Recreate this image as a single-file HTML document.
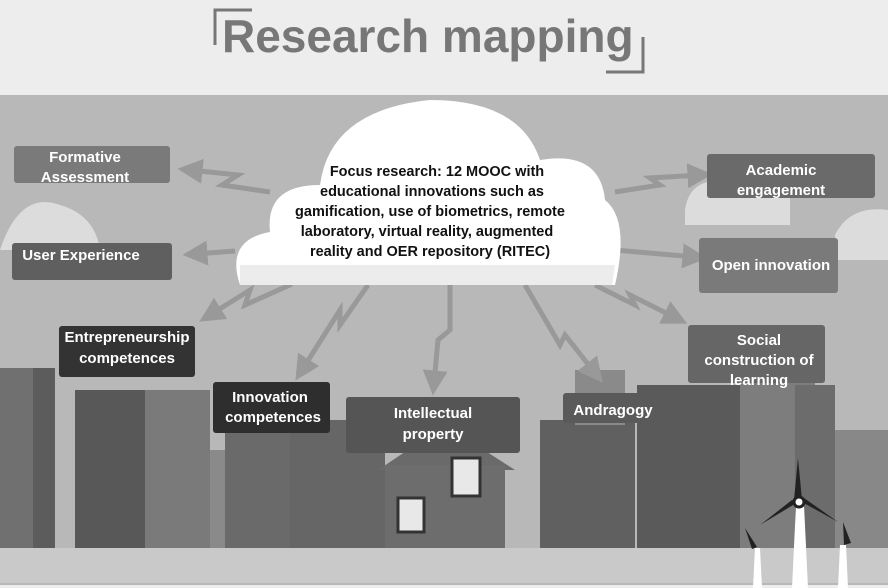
<!DOCTYPE html>
<html><head><style>
html,body{margin:0;padding:0;width:888px;height:588px;overflow:hidden;background:#fff}
svg{display:block;font-family:"Liberation Sans",sans-serif}
</style></head><body>
<svg width="888" height="588" viewBox="0 0 888 588">
<defs>
<marker id="a" markerWidth="5" markerHeight="5" refX="2.5" refY="2.5" orient="auto" markerUnits="strokeWidth">
<path d="M0,0 L5,2.5 L0,5 Z" fill="#999"/>
</marker>
</defs>
<rect x="0" y="0" width="888" height="588" fill="#ededed"/>
<rect x="0" y="95" width="888" height="490" fill="#b8b8b8"/>
<text x="222" y="52" font-size="46" font-weight="bold" fill="#777">Research mapping</text>
<path d="M215 45 V10 H252" stroke="#777" stroke-width="3" fill="none"/>
<path d="M643 37 V72 H606" stroke="#777" stroke-width="3" fill="none"/>
<path d="M0 250 Q20 190 60 205 Q95 215 100 250 Z" fill="#dcdcdc"/>
<path d="M685 210 Q690 175 730 182 Q760 170 790 195 L790 225 L685 225 Z" fill="#dcdcdc"/>
<path d="M835 235 Q850 205 888 210 L888 260 L835 260 Z" fill="#dcdcdc"/>
<g>
<rect x="0" y="368" width="55" height="180" fill="#707070"/>
<rect x="33" y="368" width="22" height="180" fill="#5c5c5c"/>
<rect x="75" y="390" width="75" height="158" fill="#585858"/>
<rect x="145" y="390" width="65" height="158" fill="#7a7a7a"/>
<rect x="210" y="450" width="80" height="98" fill="#8a8a8a"/>
<rect x="225" y="430" width="80" height="118" fill="#6a6a6a"/>
<rect x="290" y="420" width="95" height="128" fill="#666"/>
<polygon points="378,470 445,425 515,470" fill="#6a6a6a"/>
<rect x="385" y="465" width="120" height="83" fill="#6d6d6d"/>
<rect x="452" y="458" width="28" height="38" fill="#e8e8e8" stroke="#333" stroke-width="3"/>
<rect x="398" y="498" width="26" height="34" fill="#e8e8e8" stroke="#333" stroke-width="3"/>
<rect x="540" y="420" width="95" height="128" fill="#606060"/>
<rect x="575" y="370" width="50" height="55" fill="#8a8a8a"/>
<rect x="637" y="385" width="105" height="163" fill="#5a5a5a"/>
<rect x="740" y="380" width="75" height="168" fill="#7d7d7d"/>
<rect x="795" y="385" width="40" height="163" fill="#6c6c6c"/>
<rect x="835" y="430" width="53" height="118" fill="#888"/>
</g>
<rect x="0" y="548" width="888" height="35" fill="#c9c9c9"/>
<g fill="#fff">
<polygon points="796,505 804,505 808,588 792,588"/>
<polygon points="840,545 846,545 848,588 838,588"/>
<polygon points="755,548 760,548 762,588 753,588"/>
</g>
<g fill="#222">
<polygon points="798,458 802,500 794,500"/>
<polygon points="798,502 760,525 792,500"/>
<polygon points="802,502 838,522 804,498"/>
<polygon points="843,522 851,543 844,545"/>
<polygon points="745,528 757,547 752,549"/>
</g>
<circle cx="799" cy="502" r="5" fill="#fff" stroke="#222" stroke-width="3"/>
<g stroke="#999" stroke-width="5" fill="none" marker-end="url(#a)">
<path d="M270 192 L222 185 L238 175 L190 170"/>
<path d="M235 251 L195 254"/>
<path d="M292 284 L245 305 L250 290 L210 315"/>
<path d="M368 285 L340 325 L340 310 L302 370"/>
<path d="M450 285 L450 330 L438 340 L434 383"/>
<path d="M525 285 L560 345 L565 335 L595 373"/>
<path d="M595 285 L635 305 L630 295 L676 318"/>
<path d="M615 192 L660 185 L650 178 L700 175"/>
<path d="M615 250 L695 257"/>
</g>
<path d="M240 285 Q225 240 270 232 Q265 185 320 185 Q330 110 430 100 Q520 100 540 160 Q600 150 605 200 Q630 220 615 285 Z" fill="#fff"/>
<path d="M240 265 L615 265 L612 285 L240 285 Z" fill="#ececec"/>
<g font-size="14.5" font-weight="bold" fill="#111" text-anchor="middle">
<text x="437" y="176">Focus research: 12 MOOC with</text>
<text x="432" y="196">educational innovations such as</text>
<text x="430" y="216">gamification, use of biometrics, remote</text>
<text x="427" y="236">laboratory, virtual reality, augmented</text>
<text x="430" y="256">reality and OER repository (RITEC)</text>
</g>
<g>
<rect x="14" y="146" width="156" height="37" rx="3" fill="#7a7a7a"/>
<rect x="12" y="243" width="160" height="37" rx="3" fill="#5f5f5f"/>
<rect x="59" y="326" width="136" height="51" rx="3" fill="#333"/>
<rect x="213" y="382" width="117" height="51" rx="3" fill="#2e2e2e"/>
<rect x="346" y="397" width="174" height="56" rx="3" fill="#555"/>
<rect x="563" y="393" width="110" height="30" rx="3" fill="#5a5a5a"/>
<rect x="688" y="325" width="137" height="58" rx="3" fill="#666"/>
<rect x="707" y="154" width="168" height="44" rx="3" fill="#6a6a6a"/>
<rect x="699" y="238" width="139" height="55" rx="3" fill="#7a7a7a"/>
</g>
<g font-size="15" font-weight="bold" fill="#fff" text-anchor="middle">
<text x="85" y="162">Formative</text><text x="85" y="182">Assessment</text>
<text x="81" y="260">User Experience</text>
<text x="127" y="342">Entrepreneurship</text><text x="127" y="363">competences</text>
<text x="270" y="402">Innovation</text><text x="273" y="422">competences</text>
<text x="433" y="418">Intellectual</text><text x="433" y="439">property</text>
<text x="613" y="415">Andragogy</text>
<text x="759" y="345">Social</text><text x="759" y="365">construction of</text><text x="759" y="385">learning</text>
<text x="781" y="175">Academic</text><text x="781" y="195">engagement</text>
<text x="771" y="270">Open innovation</text>
</g>
</svg>
</body></html>
